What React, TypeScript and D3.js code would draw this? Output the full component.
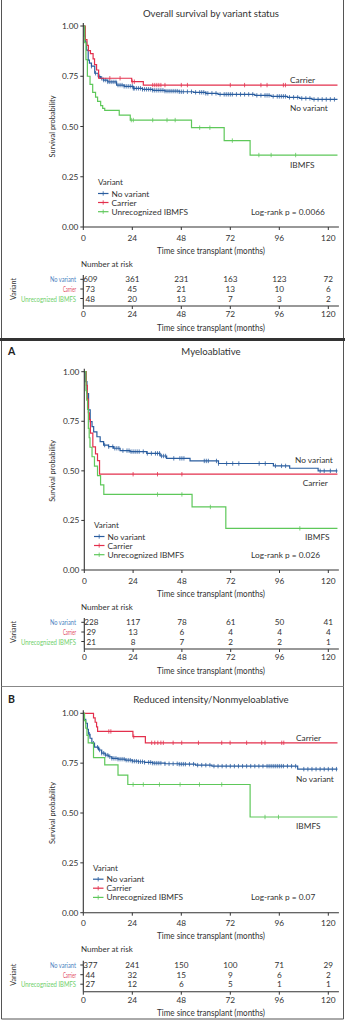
import React from 'react';
import * as d3 from 'd3';

// ---------- shared labels ----------
const timeTicks = [0, 24, 48, 72, 96, 120];
const yTicks = [0, 0.25, 0.5, 0.75, 1];
const groupNames = ['No variant', 'Carrier', 'Unrecognized IBMFS'];
const curveLabelNames = ['No variant', 'Carrier', 'IBMFS'];
const groupColors = ['#2a5d9f', '#e3304d', '#5ec85a'];
const riskLabelColors = ['#4a82c0', '#e2485e', '#6fd06a'];
const maxTime = 124.5;

// ---------- Overall ----------
const allNoVarT = [0, 0.5, 1, 1.6, 2.4, 3, 4, 5.6, 7.3, 8.5, 9.8, 12, 16.3, 20, 24.5, 29, 34, 40, 47, 54, 60, 66, 84, 92, 100, 106, 112];
const allNoVarS = [1, 0.95, 0.92, 0.88, 0.83, 0.815, 0.8, 0.765, 0.748, 0.74, 0.731, 0.722, 0.706, 0.7, 0.69, 0.685, 0.68, 0.676, 0.673, 0.67, 0.665, 0.66, 0.655, 0.65, 0.645, 0.64, 0.635];
const allNoVarC = [4, 6, 8, 9, 10, 11, 12, 13, 14, 15, 16, 17, 18, 19, 20, 21, 22, 23, 24, 24.5, 25, 26, 27, 28, 29, 30, 31, 32, 33, 34, 35, 36, 37, 38, 39, 40, 41, 42, 43, 44, 45, 46, 47, 48, 49, 51, 53, 55, 57, 58, 59, 60, 61, 63, 65, 67, 69, 70, 71, 72, 73, 75, 77, 79, 81, 83, 85, 87, 89, 90, 91, 93, 95, 96, 97, 98, 99, 101, 103, 105, 107, 109, 111, 113, 115, 117, 119, 121, 123];
const allCarT = [0, 1, 1.8, 2.5, 3.5, 4.8, 5.5, 6.5, 7.5, 23.7, 29.4];
const allCarS = [1, 0.932, 0.904, 0.877, 0.863, 0.836, 0.808, 0.781, 0.74, 0.723, 0.706];
const allCarC = [13, 18, 24, 25, 34, 35, 36, 37, 38, 40, 48, 51, 72, 79, 87, 90, 98, 99];
const allIbmT = [0, 0.7, 1.3, 2, 3.3, 4.6, 6, 7, 8.5, 9.5, 10.5, 17.6, 23, 53, 69, 81.7];
const allIbmS = [1, 0.917, 0.833, 0.75, 0.71, 0.67, 0.646, 0.625, 0.604, 0.59, 0.58, 0.557, 0.532, 0.494, 0.43, 0.358];
const allIbmC = [23.5, 24.5, 34, 41, 45, 57, 62, 73, 86, 92, 104];
const allRiskNoVar = [609, 361, 231, 163, 123, 72];
const allRiskCar = [73, 45, 21, 13, 10, 6];
const allRiskIbm = [48, 20, 13, 7, 3, 2];

// ---------- Myeloablative ----------
const maNoVarT = [0, 0.5, 1.3, 2.1, 2.9, 3.8, 4.6, 6.2, 7.8, 9.5, 11.9, 14.4, 17.6, 22.5, 30.7, 37.3, 40.5, 52, 66, 93, 101, 115];
const maNoVarS = [1, 0.95, 0.89, 0.807, 0.748, 0.723, 0.697, 0.672, 0.647, 0.63, 0.622, 0.614, 0.602, 0.597, 0.588, 0.575, 0.563, 0.55, 0.537, 0.525, 0.513, 0.5];
const maNoVarC = [10, 12, 14, 15, 16, 17, 19, 21, 22, 23, 24, 25, 26, 27, 29, 31, 33, 35, 36, 37, 38, 39, 40, 44, 47, 48, 49, 59, 60, 61, 65, 66, 70, 73, 76, 86, 89, 94, 97, 99, 116, 118, 121, 124];
const maCarT = [0, 1, 1.5, 2, 2.5, 3, 4.2, 5.5, 6.5, 7.5];
const maCarS = [1, 0.931, 0.862, 0.793, 0.759, 0.69, 0.621, 0.586, 0.552, 0.483];
const maCarC = [24, 36, 48];
const maIbmT = [0, 0.8, 1.2, 1.6, 2, 2.4, 2.8, 3.8, 5, 6.5, 8, 9.6, 53, 69.6];
const maIbmS = [1, 0.905, 0.857, 0.81, 0.714, 0.667, 0.619, 0.571, 0.524, 0.476, 0.429, 0.381, 0.318, 0.21];
const maIbmC = [36, 48, 62, 106];
const maRiskNoVar = [228, 117, 78, 61, 50, 41];
const maRiskCar = [29, 13, 6, 4, 4, 4];
const maRiskIbm = [21, 8, 7, 2, 2, 1];

// ---------- Reduced intensity ----------
const riNoVarT = [0, 0.5, 1.2, 2, 2.5, 3.3, 4.2, 5.5, 7.5, 9, 10.7, 12.5, 14, 17, 20.5, 24, 27, 30, 34, 40, 47, 55, 63, 105];
const riNoVarS = [1, 0.97, 0.95, 0.92, 0.895, 0.875, 0.85, 0.83, 0.816, 0.8, 0.79, 0.782, 0.774, 0.77, 0.765, 0.76, 0.757, 0.754, 0.75, 0.747, 0.745, 0.74, 0.735, 0.72];
const riNoVarC = [3, 5, 7, 8, 9, 10, 11, 12, 13, 14, 15, 16, 17, 18, 19, 20, 21, 22, 23, 24, 25, 26, 27, 28, 29, 30, 32, 33, 34, 35, 36, 37, 38, 40, 42, 44, 46, 47, 48, 49, 50, 52, 54, 56, 58, 60, 62, 64, 66, 68, 70, 72, 74, 76, 78, 80, 82, 84, 86, 88, 90, 91, 92, 93, 94, 95, 96, 97, 98, 100, 102, 104, 108, 110, 112, 114, 116, 118, 120, 122, 124];
const riCarT = [0, 5, 5.8, 6.5, 7, 24.3, 30.4];
const riCarS = [1, 0.977, 0.955, 0.932, 0.909, 0.883, 0.852];
const riCarC = [12.5, 13.5, 24.7, 33.5, 35, 36.5, 38, 39.2, 44, 48.2, 56.4, 67.8, 71.9, 80, 87.4, 89, 97.2, 98.2];
const riIbmT = [0, 0.6, 1.2, 1.8, 2.4, 5, 10.5, 17, 21.8, 81.7];
const riIbmS = [1, 0.963, 0.926, 0.889, 0.852, 0.778, 0.741, 0.69, 0.643, 0.48];
const riIbmC = [24.4, 29.4, 37.3, 47.4, 56.9, 67.8, 89, 95.6];
const riRiskNoVar = [377, 241, 150, 100, 71, 29];
const riRiskCar = [44, 32, 15, 9, 6, 2];
const riRiskIbm = [27, 12, 6, 5, 1, 1];

const FONT = 'Lato, "Open Sans", sans-serif';
const TXT = '#333';

type Series = { t: number[]; s: number[]; c: number[] };

const panels = [
  {
    title: 'Overall survival by variant status', letter: '', titleY: 13,
    x0: 83.3, y1: 26, y0: 227,
    series: [
      { t: allNoVarT, s: allNoVarS, c: allNoVarC },
      { t: allCarT, s: allCarS, c: allCarC },
      { t: allIbmT, s: allIbmS, c: allIbmC },
    ] as Series[],
    risk: [allRiskNoVar, allRiskCar, allRiskIbm],
    pval: 'Log-rank p = 0.0066',
    labelPos: [[290, 108], [290, 80], [290, 165]],
    legendX: 98,
  },
  {
    title: 'Myeloablative', letter: 'A', titleY: 351,
    x0: 84.3, y1: 371.7, y0: 570,
    series: [
      { t: maNoVarT, s: maNoVarS, c: maNoVarC },
      { t: maCarT, s: maCarS, c: maCarC },
      { t: maIbmT, s: maIbmS, c: maIbmC },
    ] as Series[],
    risk: [maRiskNoVar, maRiskCar, maRiskIbm],
    pval: 'Log-rank p = 0.026',
    labelPos: [[295, 460], [302.7, 483.3], [305, 537]],
    legendX: 94,
  },
  {
    title: 'Reduced intensity/Nonmyeloablative', letter: 'B', titleY: 699,
    x0: 83.3, y1: 713.3, y0: 912.7,
    series: [
      { t: riNoVarT, s: riNoVarS, c: riNoVarC },
      { t: riCarT, s: riCarS, c: riCarC },
      { t: riIbmT, s: riIbmS, c: riIbmC },
    ] as Series[],
    risk: [riRiskNoVar, riRiskCar, riRiskIbm],
    pval: 'Log-rank p = 0.07',
    labelPos: [[296, 779.3], [296, 738.3], [296, 825.7]],
    legendX: 93,
  },
];

function stepAt(t: number, times: number[], surv: number[]) {
  const i = d3.bisectRight(times, t) - 1;
  return surv[Math.max(0, i)];
}

function Panel({ p }: { p: (typeof panels)[number] }) {
  const x = d3.scaleLinear().domain([0, 120]).range([p.x0, 328.3]);
  const y = d3.scaleLinear().domain([0, 1]).range([p.y0, p.y1]);
  const line = d3
    .line<[number, number]>()
    .x((d) => x(d[0]))
    .y((d) => y(d[1]))
    .curve(d3.curveStepAfter);
  const xEnd = x(125.2);
  const y0 = p.y0;
  const rowY = [y0 + 52.3, y0 + 62, y0 + 71.5];
  const riskAxisY = y0 + 79;
  const legRows = [y0 - 33.5, y0 - 24.5, y0 - 15.3];
  const lx = p.legendX;
  return (
    <g>
      {p.letter && (
        <text x={8} y={p.titleY} fontFamily={FONT} fontSize={10.5} fontWeight="bold" fill="#222" dominantBaseline="central">
          {p.letter}
        </text>
      )}
      <text x={211} y={p.titleY} textAnchor="middle" fontFamily={FONT} fontSize={9.6} fill={TXT} dominantBaseline="central">
        {p.title}
      </text>
      {/* curves */}
      {p.series.map((s, gi) => {
        const pts: [number, number][] = s.t.map((t, i) => [t, s.s[i]] as [number, number]);
        pts.push([maxTime, s.s[s.s.length - 1]]);
        return (
          <g key={gi}>
            <path d={line(pts) || ''} fill="none" stroke={groupColors[gi]} strokeWidth={1.2} />
            {s.c.map((ct, ci) => {
              const cy = y(stepAt(ct, s.t, s.s));
              return <line key={ci} x1={x(ct)} x2={x(ct)} y1={cy - 2.2} y2={cy + 2.2} stroke={groupColors[gi]} strokeWidth={0.8} />;
            })}
          </g>
        );
      })}
      {/* axes */}
      <line x1={p.x0} x2={p.x0} y1={p.y1 - 3} y2={y0} stroke={TXT} strokeWidth={1.1} />
      <line x1={p.x0} x2={xEnd} y1={y0} y2={y0} stroke={TXT} strokeWidth={1.1} />
      {yTicks.map((v) => (
        <g key={v}>
          <line x1={p.x0 - 3} x2={p.x0} y1={y(v)} y2={y(v)} stroke={TXT} strokeWidth={1} />
          <text x={p.x0 - 5} y={y(v)} textAnchor="end" fontFamily={FONT} fontSize={8.3} fill={TXT} dominantBaseline="central">
            {d3.format('.2f')(v)}
          </text>
        </g>
      ))}
      {timeTicks.map((t) => (
        <g key={t}>
          <line x1={x(t)} x2={x(t)} y1={y0} y2={y0 + 3} stroke={TXT} strokeWidth={1} />
          <text x={x(t)} y={y0 + 10.5} textAnchor="middle" fontFamily={FONT} fontSize={8.3} fill={TXT} dominantBaseline="central">
            {t}
          </text>
        </g>
      ))}
      <text
        transform={`translate(52,${(p.y1 + y0) / 2}) rotate(-90)`}
        textAnchor="middle" fontFamily={FONT} fontSize={8} fill={TXT} dominantBaseline="central"
        textLength={62} lengthAdjust="spacingAndGlyphs"
      >
        Survival probability
      </text>
      <text x={211} y={y0 + 23} textAnchor="middle" fontFamily={FONT} fontSize={9} fill={TXT} dominantBaseline="central" textLength={108} lengthAdjust="spacingAndGlyphs">
        Time since transplant (months)
      </text>
      {/* curve labels */}
      {curveLabelNames.map((n, i) => (
        <text key={n} x={p.labelPos[i][0]} y={p.labelPos[i][1]} fontFamily={FONT} fontSize={8.3} fill={TXT} dominantBaseline="central">
          {n}
        </text>
      ))}
      {/* legend */}
      <text x={lx} y={y0 - 45} fontFamily={FONT} fontSize={8} fill={TXT} dominantBaseline="central">
        Variant
      </text>
      {groupNames.map((n, i) => (
        <g key={n}>
          <line x1={lx} x2={lx + 10.5} y1={legRows[i]} y2={legRows[i]} stroke={groupColors[i]} strokeWidth={1.2} />
          <line x1={lx + 5.2} x2={lx + 5.2} y1={legRows[i] - 2.2} y2={legRows[i] + 2.2} stroke={groupColors[i]} strokeWidth={0.8} />
          <text x={lx + 13.5} y={legRows[i]} fontFamily={FONT} fontSize={8.3} fill={TXT} dominantBaseline="central">
            {n}
          </text>
        </g>
      ))}
      <text x={251} y={legRows[2]} fontFamily={FONT} fontSize={8.3} fill={TXT} dominantBaseline="central">
        {p.pval}
      </text>
      {/* risk table */}
      <text x={81} y={y0 + 36.5} fontFamily={FONT} fontSize={8} fill={TXT} dominantBaseline="central">
        Number at risk
      </text>
      <text
        transform={`translate(13,${y0 + 62}) rotate(-90)`}
        textAnchor="middle" fontFamily={FONT} fontSize={8} fill={TXT} dominantBaseline="central"
        textLength={22} lengthAdjust="spacingAndGlyphs"
      >
        Variant
      </text>
      <line x1={p.x0} x2={p.x0} y1={y0 + 48} y2={riskAxisY} stroke={TXT} strokeWidth={1.1} />
      <line x1={p.x0} x2={xEnd} y1={riskAxisY} y2={riskAxisY} stroke={TXT} strokeWidth={1.1} />
      {groupNames.map((n, i) => (
        <g key={n}>
          <line x1={p.x0 - 3} x2={p.x0} y1={rowY[i]} y2={rowY[i]} stroke={TXT} strokeWidth={1} />
          <text
            x={76} y={rowY[i]} textAnchor="end" fontFamily={FONT} fontSize={6.6} fill={riskLabelColors[i]} dominantBaseline="central"
            textLength={[26, 13, 55][i]} lengthAdjust="spacingAndGlyphs"
          >
            {n}
          </text>
          {p.risk[i].map((v, j) => (
            <text
              key={j} x={x(timeTicks[j]) + (timeTicks[j] === 0 ? 7 : 0)} y={rowY[i]} textAnchor="middle"
              fontFamily={FONT} fontSize={8.2} fill={TXT} dominantBaseline="central"
            >
              {v}
            </text>
          ))}
        </g>
      ))}
      {timeTicks.map((t) => (
        <g key={t}>
          <line x1={x(t)} x2={x(t)} y1={riskAxisY} y2={riskAxisY + 3} stroke={TXT} strokeWidth={1} />
          <text x={x(t)} y={riskAxisY + 8} textAnchor="middle" fontFamily={FONT} fontSize={8.3} fill={TXT} dominantBaseline="central">
            {t}
          </text>
        </g>
      ))}
      <text x={211} y={y0 + 100} textAnchor="middle" fontFamily={FONT} fontSize={9} fill={TXT} dominantBaseline="central" textLength={108} lengthAdjust="spacingAndGlyphs">
        Time since transplant (months)
      </text>
    </g>
  );
}

export default function App() {
  return (
    <svg width={345} height={1024} style={{ position: 'absolute', left: 0, top: 0, background: '#fff' }}>
      <rect x={0} y={0} width={345} height={1024} fill="#fff" />
      {panels.map((p, i) => (
        <Panel key={i} p={p} />
      ))}
      {/* frame */}
      <line x1={1.5} x2={1.5} y1={0} y2={1019} stroke="#555" strokeWidth={1} />
      <line x1={343.5} x2={343.5} y1={0} y2={1019} stroke="#555" strokeWidth={1} />
      <line x1={0} x2={345} y1={339.5} y2={339.5} stroke="#333" strokeWidth={3} />
      <line x1={1.5} x2={343.5} y1={686.5} y2={686.5} stroke="#888" strokeWidth={1} />
      <line x1={1.5} x2={343.5} y1={1019} y2={1019} stroke="#555" strokeWidth={1} />
    </svg>
  );
}
